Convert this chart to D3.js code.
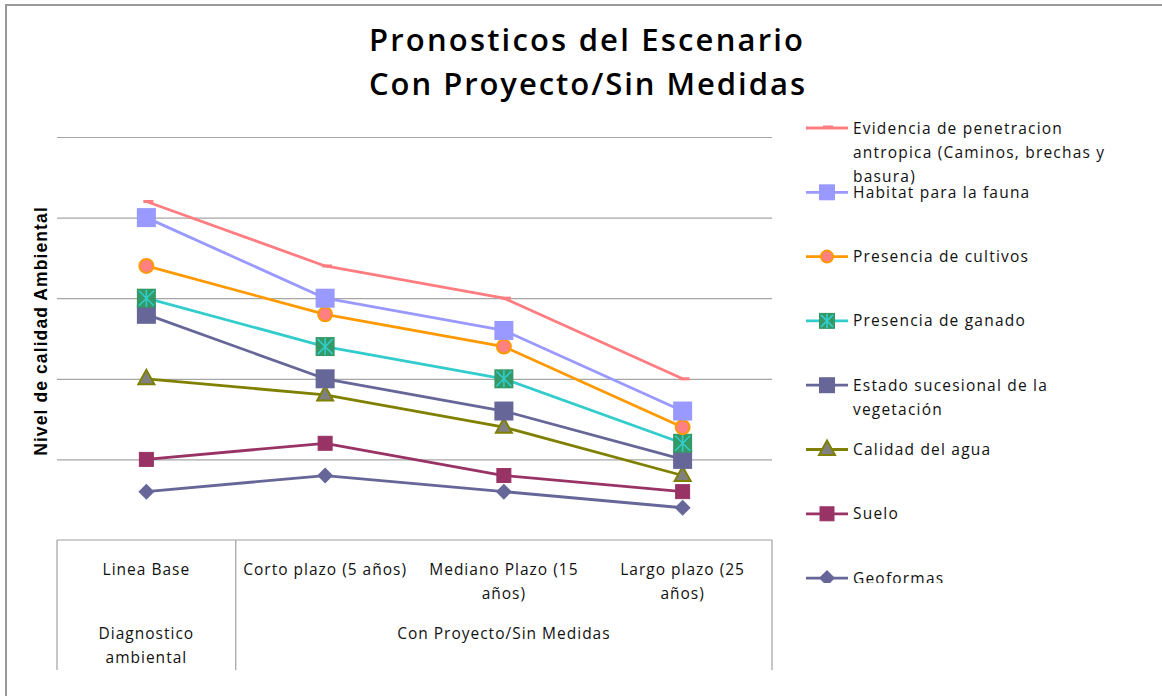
<!DOCTYPE html>
<html>
<head>
<meta charset="utf-8">
<script src="https://cdn.jsdelivr.net/npm/d3@7"></script>
<style>
  html, body { margin: 0; padding: 0; background: #fff; }
  svg { display: block; }
</style>
</head>
<body>
<svg id="chart" width="1162" height="696"></svg>
<script>
// ---------- DATA ----------
const categories = ["Linea Base", "Corto plazo (5 años)", "Mediano Plazo (15 años)", "Largo plazo (25 años)"];
const categoryLines = [["Linea Base"], ["Corto plazo (5 años)"], ["Mediano Plazo (15", "años)"], ["Largo plazo (25", "años)"]];
const groupLabels = [["Diagnostico", "ambiental"], ["Con Proyecto/Sin Medidas"]];
const groupSpans = [[0, 0], [1, 3]];

const seriesNames = [
  ["Evidencia de penetracion", "antropica (Caminos, brechas y", "basura)"],
  ["Habitat para la fauna"],
  ["Presencia de cultivos"],
  ["Presencia de ganado"],
  ["Estado sucesional de la", "vegetación"],
  ["Calidad del agua"],
  ["Suelo"],
  ["Geoformas"]
];
const evidencia = [4.2, 3.4, 3.0, 2.0];
const habitat   = [4.0, 3.0, 2.6, 1.6];
const cultivos  = [3.4, 2.8, 2.4, 1.4];
const ganado    = [3.0, 2.4, 2.0, 1.2];
const estado    = [2.8, 2.0, 1.6, 1.0];
const agua      = [2.0, 1.8, 1.4, 0.8];
const suelo     = [1.0, 1.2, 0.8, 0.6];
const geoformas = [0.6, 0.8, 0.6, 0.4];
const seriesValues = [evidencia, habitat, cultivos, ganado, estado, agua, suelo, geoformas];
const yTicks = [0, 1, 2, 3, 4, 5];

const title = ["Pronosticos del Escenario", "Con Proyecto/Sin Medidas"];
const yTitle = "Nivel de calidad Ambiental";

// ---------- STYLE ----------
const styles = [
  { line: "#FF7C80", marker: "dash",     fill: "#FF7C80", stroke: "none" },
  { line: "#9999FF", marker: "square",   fill: "#9999FF", stroke: "none", size: 19 },
  { line: "#FF9900", marker: "circle",   fill: "#FF8080", stroke: "#FF9900", size: 7 },
  { line: "#33CCCC", marker: "star",     fill: "#339966", stroke: "#33CCCC", size: 19 },
  { line: "#666699", marker: "square",   fill: "#666699", stroke: "none", size: 19 },
  { line: "#808000", marker: "triangle", fill: "#808080", stroke: "#808000", size: 16 },
  { line: "#993366", marker: "square",   fill: "#993366", stroke: "#993366", size: 14 },
  { line: "#666699", marker: "diamond",  fill: "#666699", stroke: "none", size: 15 }
];

const svg = d3.select("#chart");
const plot = { left: 57, right: 772, top: 137, bottom: 540 };

// outer border
svg.append("rect").attr("x", 6).attr("y", 5).attr("width", 1170).attr("height", 710)
  .attr("fill", "none").attr("stroke", "#999").attr("stroke-width", 2);

// title
const titleFont = "'Open Sans', 'DejaVu Sans', sans-serif";
svg.append("text").attr("x", 586).attr("y", 51).attr("text-anchor", "middle")
  .attr("font-family", titleFont).attr("font-size", 31).attr("font-weight", 600).attr("fill", "#000")
  .attr("textLength", 434).attr("lengthAdjust", "spacing").text(title[0]);
svg.append("text").attr("x", 587).attr("y", 95).attr("text-anchor", "middle")
  .attr("font-family", titleFont).attr("font-size", 31).attr("font-weight", 600).attr("fill", "#000")
  .attr("textLength", 436).attr("lengthAdjust", "spacing").text(title[1]);

// scales
const x = d3.scaleBand().domain(categories).range([plot.left, plot.right]).padding(0);
const cx = c => x(c) + x.bandwidth() / 2;
const y = d3.scaleLinear().domain([0, 5]).range([plot.bottom, plot.top]);

// gridlines
const yAxis = d3.axisLeft(y).tickValues(yTicks.filter(t => t > 0)).tickSize(-(plot.right - plot.left)).tickFormat("");
const gy = svg.append("g").attr("transform", `translate(${plot.left},0)`).call(yAxis);
gy.select(".domain").remove();
gy.selectAll(".tick line").attr("stroke", "#a6a6a6").attr("stroke-width", 1.2);

// category table
const lineColor = "#a0a0a0";
const tableBottom = 670;
svg.append("line").attr("x1", plot.left).attr("x2", plot.right).attr("y1", y(0)).attr("y2", y(0))
  .attr("stroke", lineColor).attr("stroke-width", 1.2);
const boundaries = [x(categories[0]), x(categories[1]), x(categories[3]) + x.bandwidth()];
svg.selectAll(".vsep").data(boundaries).join("line")
  .attr("x1", d => d).attr("x2", d => d).attr("y1", y(0)).attr("y2", tableBottom)
  .attr("stroke", lineColor).attr("stroke-width", 1.2);

const labFont = "'Open Sans', 'DejaVu Sans', sans-serif";
categories.forEach((c, i) => {
  const t = svg.append("text").attr("x", cx(c)).attr("y", 575).attr("text-anchor", "middle")
    .attr("font-family", labFont).attr("font-size", 15.5).attr("fill", "#111")
    .attr("letter-spacing", 1);
  categoryLines[i].forEach((ln, j) => {
    t.append("tspan").attr("x", cx(c)).attr("dy", j === 0 ? 0 : 24).text(ln);
  });
});
groupLabels.forEach((g, i) => {
  const [a, b] = groupSpans[i];
  const mid = (x(categories[a]) + x(categories[b]) + x.bandwidth()) / 2;
  const t = svg.append("text").attr("x", mid).attr("y", 639).attr("text-anchor", "middle")
    .attr("font-family", labFont).attr("font-size", 15.5).attr("fill", "#111")
    .attr("letter-spacing", 1);
  g.forEach((ln, j) => t.append("tspan").attr("x", mid).attr("dy", j === 0 ? 0 : 24).text(ln));
});

// y title
svg.append("text").attr("transform", `translate(47,331) rotate(-90)`).attr("text-anchor", "middle")
  .attr("font-family", "'Liberation Sans', Arial, sans-serif").attr("font-weight", "bold")
  .attr("font-size", 17.5).attr("letter-spacing", 1.1).attr("fill", "#000").text(yTitle);

// marker drawing
function drawMarker(g, st, px, py) {
  const s = st.size;
  if (st.marker === "dash") {
    g.append("rect").attr("x", px - 3).attr("y", py - 1.5).attr("width", 10).attr("height", 3).attr("fill", st.fill);
  } else if (st.marker === "square") {
    g.append("rect").attr("x", px - s / 2).attr("y", py - s / 2).attr("width", s).attr("height", s)
      .attr("fill", st.fill).attr("stroke", st.stroke).attr("stroke-width", 1);
  } else if (st.marker === "circle") {
    g.append("circle").attr("cx", px).attr("cy", py).attr("r", s)
      .attr("fill", st.fill).attr("stroke", st.stroke).attr("stroke-width", 2);
  } else if (st.marker === "star") {
    g.append("rect").attr("x", px - s / 2).attr("y", py - s / 2).attr("width", s).attr("height", s).attr("fill", st.fill);
    const r = s / 2 - 2;
    const d = `M${px - r},${py - r}L${px + r},${py + r}M${px + r},${py - r}L${px - r},${py + r}M${px},${py - r - 1}L${px},${py + r + 1}`;
    g.append("path").attr("d", d).attr("stroke", st.stroke).attr("stroke-width", 1.6).attr("fill", "none");
  } else if (st.marker === "triangle") {
    const h = s * 0.9;
    g.append("path").attr("d", `M${px},${py - h * 0.62}L${px + s / 2},${py + h * 0.38}L${px - s / 2},${py + h * 0.38}Z`)
      .attr("fill", st.fill).attr("stroke", st.stroke).attr("stroke-width", 2);
  } else if (st.marker === "diamond") {
    const r = s / 2 + 0.5;
    g.append("path").attr("d", `M${px},${py - r}L${px + r},${py}L${px},${py + r}L${px - r},${py}Z`).attr("fill", st.fill);
  }
}

// series lines (draw in reverse so first series on top)
const line = d3.line().x((d, i) => cx(categories[i])).y(d => y(d));
const seriesG = svg.append("g");
for (let k = seriesValues.length - 1; k >= 0; k--) {
  const st = styles[k];
  const g = seriesG.append("g");
  g.append("path").attr("d", line(seriesValues[k])).attr("fill", "none")
    .attr("stroke", st.line).attr("stroke-width", 2.8).attr("stroke-linejoin", "round");
  seriesValues[k].forEach((v, i) => drawMarker(g, st, cx(categories[i]), y(v)));
}

// legend
svg.append("defs").append("clipPath").attr("id", "legclip")
  .append("rect").attr("x", 790).attr("y", 100).attr("width", 380).attr("height", 483);
const leg = svg.append("g").attr("clip-path", "url(#legclip)");
seriesNames.forEach((lines, i) => {
  const st = styles[i];
  const ly = 128 + i * 64.3;
  const g = leg.append("g");
  g.append("line").attr("x1", 806).attr("x2", 848).attr("y1", ly).attr("y2", ly)
    .attr("stroke", st.line).attr("stroke-width", 2.8);
  const legSt = Object.assign({}, st, { size: st.marker === "circle" ? 6 : (st.marker === "dash" ? 0 : Math.min(st.size, 16)) });
  if (st.marker === "dash") {
    g.append("rect").attr("x", 823).attr("y", ly - 2.5).attr("width", 10).attr("height", 2).attr("fill", st.fill);
  } else {
    drawMarker(g, legSt, 827, ly);
  }
  const t = g.append("text").attr("x", 853).attr("y", ly + 5.5)
    .attr("font-family", labFont).attr("font-size", 15.5).attr("fill", "#111").attr("letter-spacing", 1.2);
  lines.forEach((ln, j) => t.append("tspan").attr("x", 853).attr("dy", j === 0 ? 0 : 24).text(ln));
});
</script>
</body>
</html>
